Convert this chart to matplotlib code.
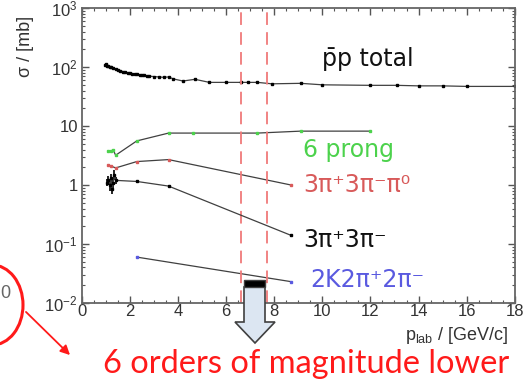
import matplotlib.pyplot as plt
from matplotlib.patches import Polygon, Ellipse, FancyArrowPatch, Rectangle
from matplotlib.ticker import FixedLocator, FixedFormatter, MultipleLocator, LogLocator

plt.rcParams['font.family'] = ['Liberation Sans', 'DejaVu Sans']
plt.rcParams['mathtext.fontset'] = 'custom'
plt.rcParams['mathtext.rm'] = 'Liberation Sans'
plt.rcParams['mathtext.it'] = 'Liberation Sans'
plt.rcParams['mathtext.bf'] = 'Liberation Sans:bold'

# 数据
pp_total_x = [0.95, 1.0, 1.05, 1.1, 1.15, 1.2, 1.3, 1.4, 1.5, 1.6, 1.7, 1.8, 1.9, 2.0, 2.1, 2.2,
              2.3, 2.4, 2.5, 2.6, 2.7, 2.8, 3.0, 3.2, 3.4, 3.6, 3.8, 4.2, 4.7, 5.3, 6.0, 6.6,
              6.9, 7.3, 7.9, 9.1, 10.0, 12.0, 13.1, 14.0, 15.0, 16.0, 18.0]
pp_total_y = [108, 112, 104, 106, 100, 102, 96, 92, 88, 86, 84, 82, 80, 79, 77, 76,
              75, 74, 73, 72, 71, 70, 69, 68, 67, 68, 63, 58, 62, 55, 55, 55,
              55, 55, 52, 53, 50, 49, 49, 48, 48, 47, 47]

prong6_x = [1.1, 1.2, 1.3, 1.4, 2.28, 3.6, 4.6, 7.3, 9.1, 12.0]
prong6_y = [3.8, 3.8, 3.9, 3.2, 5.6, 7.6, 7.6, 7.6, 8.2, 8.2]

pi7_x = [1.1, 1.2, 1.4, 2.28, 3.6, 8.7]
pi7_y = [2.2, 2.1, 1.95, 2.5, 2.7, 1.0]

pi6_x = [1.05, 1.1, 1.15, 1.2, 1.25, 1.3, 1.35, 1.4, 2.28, 3.6, 8.7]
pi6_y = [1.1, 1.2, 1.0, 1.3, 0.85, 1.1, 1.5, 1.2, 1.15, 0.96, 0.14]
pi6_err = [0.15, 0.2, 0.2, 0.25, 0.15, 0.2, 0.3, 0.15, 0.05, 0.05, 0.01]

kk_x = [2.28, 8.7]
kk_y = [0.06, 0.023]

dash_x = [6.6, 7.7]

ytick_vals = [1e-2, 1e-1, 1, 10, 1e2, 1e3]
ytick_labels = ['$10^{-2}$', '$10^{-1}$', '1', '10', '$10^{2}$', '$10^{3}$']

fig = plt.figure(figsize=(5.27, 3.85), dpi=100)
ax = fig.add_axes([0.1556, 0.213, 0.821, 0.766])

line_c = '#404040'
ms = 2
ax.plot(pp_total_x, pp_total_y, '-', color=line_c, lw=0.9, marker='s', ms=ms, mfc='black', mec='black')
ax.plot(prong6_x, prong6_y, '-', color=line_c, lw=0.9, marker='s', ms=ms, mfc='#4cd24c', mec='#4cd24c')
ax.plot(pi7_x, pi7_y, '-', color=line_c, lw=0.9, marker='s', ms=ms, mfc='#d85a5a', mec='#d85a5a')
ax.errorbar(pi6_x, pi6_y, yerr=pi6_err, fmt='-', color=line_c, lw=0.9, marker='s', ms=ms,
            mfc='black', mec='black', ecolor='black', elinewidth=1.2)
ax.plot(kk_x, kk_y, '-', color=line_c, lw=0.9, marker='s', ms=ms, mfc='#5a5ae0', mec='#5a5ae0')

for xv in dash_x:
    ax.axvline(xv, color='#f07a7a', lw=1.3, ls=(0, (7, 4)))

ax.set_yscale('log')
ax.set_xlim(0, 18)
ax.set_ylim(1e-2, 1e3)
ax.xaxis.set_major_locator(MultipleLocator(2))
ax.xaxis.set_minor_locator(MultipleLocator(0.5))
ax.yaxis.set_major_locator(FixedLocator(ytick_vals))
ax.yaxis.set_major_formatter(FixedFormatter(ytick_labels))
ax.yaxis.set_minor_locator(LogLocator(base=10, subs=range(2, 10), numticks=20))
ax.yaxis.set_minor_formatter(FixedFormatter([]))
ax.tick_params(which='both', direction='in', top=True, right=True, colors='#555555',
               labelcolor='#333333', labelsize=12)
ax.tick_params(which='major', length=5, width=1)
ax.tick_params(which='minor', length=2.5, width=0.8)
ax.tick_params(axis='x', pad=1)
ax.tick_params(axis='y', pad=3)
for sp in ax.spines.values():
    sp.set_color('#666666')
    sp.set_linewidth(1.3)

ax.set_ylabel('σ / [mb]', fontsize=13, color='#333333')
ax.yaxis.set_label_coords(-0.11, 0.87)
ax.set_xlabel(r'p$_{\mathrm{lab}}$ / [GeV/c]', fontsize=13, color='#333333')
ax.xaxis.set_label_coords(0.866, -0.075)

lab_font = ['DejaVu Sans']
ax.text(10.0, 135, 'p\u0304p total', fontsize=17, color='#111111', va='center', family=lab_font)
ax.text(9.2, 3.9, '6 prong', fontsize=17, color='#4cd24c', va='center', family=lab_font)
ax.text(9.2, 1.0, '3π⁺3π⁻π⁰', fontsize=17, color='#d85a5a', va='center', family=lab_font)
ax.text(9.2, 0.115, '3π⁺3π⁻', fontsize=17, color='#111111', va='center', family=lab_font)
ax.text(9.5, 0.025, '2K2π⁺2π⁻', fontsize=17, color='#5a5ae0', va='center', family=lab_font)

W, H = 527.0, 385.0
def fp(px, py):
    return (px / W, 1 - py / H)

# 箭头
arrow_pts = [fp(244, 287), fp(265, 287), fp(265, 322), fp(275, 322), fp(255, 343),
             fp(235, 322), fp(244, 322)]
fig.patches.append(Polygon(arrow_pts, closed=True, transform=fig.transFigure,
                           facecolor='#dce6f2', edgecolor='#404040', lw=1.2))
x0, y0 = fp(244, 287)
fig.patches.append(Rectangle((x0, y0), 21 / W, 7 / H, transform=fig.transFigure,
                             facecolor='black', edgecolor='#404040', lw=1))

fig.text(103 / W, 1 - 364 / H, '6 orders of magnitude lower', fontsize=23.5, color='#ff1a1a',
         family=['Lato', 'DejaVu Sans'], va='center', ha='left')

# 左侧红圈
ex, ey = fp(-8, 305)
fig.patches.append(Ellipse((ex, ey), 62 / W, 80 / H, transform=fig.transFigure,
                           facecolor='none', edgecolor='#ff1a1a', lw=2.2))
fig.text(0.5 / W, 1 - 293 / H, '0', fontsize=13, color='#666666', va='center', ha='left')
fig.patches.append(FancyArrowPatch(fp(24, 310), fp(72, 357), transform=fig.transFigure,
                                   arrowstyle='-|>', mutation_scale=14, color='#ff1a1a', lw=1.3))

fig.savefig('out.png', dpi=100)
